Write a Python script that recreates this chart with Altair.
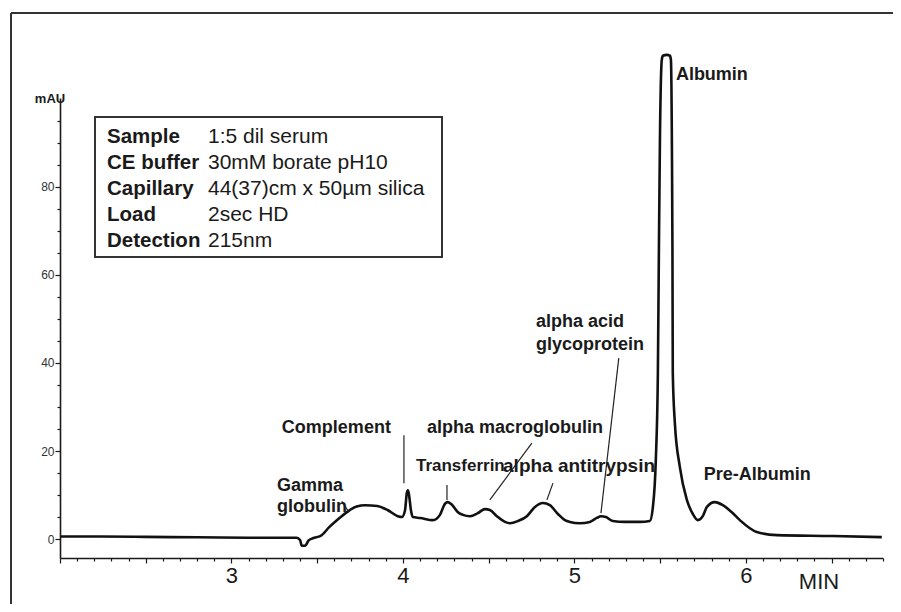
import altair as alt
import pandas as pd

# ---- trace (time in min, absorbance in mAU) ----
time_min = [2.00, 2.20, 2.50, 2.80, 3.10, 3.38, 3.40, 3.41, 3.43, 3.45, 3.475, 3.52, 3.57, 3.63,
            3.69, 3.73, 3.78, 3.85, 3.91, 3.97, 3.994, 4.012, 4.023, 4.029, 4.035, 4.047, 4.058,
            4.10, 4.175, 4.216, 4.245, 4.262, 4.286, 4.321, 4.35, 4.391, 4.437, 4.478, 4.507,
            4.548, 4.595, 4.624, 4.671, 4.723, 4.77, 4.816, 4.857, 4.904, 4.945, 4.974, 5.032,
            5.09, 5.131, 5.155, 5.184, 5.224, 5.294, 5.382, 5.44, 5.458, 5.475, 5.487, 5.493,
            5.499, 5.51, 5.516, 5.539, 5.557, 5.563, 5.569, 5.572, 5.574, 5.586, 5.615, 5.656,
            5.691, 5.72, 5.749, 5.773, 5.819, 5.866, 5.918, 5.965, 6.064, 6.181, 6.507, 6.793]
mau = [0.6, 0.6, 0.5, 0.4, 0.3, 0.3, -0.2, -1.5, -1.5, -0.3, 0.2, 0.7, 2.7, 4.8,
       6.6, 7.4, 7.7, 7.5, 6.6, 5.2, 5.0, 6.5, 10.5, 11.1, 10.2, 6.5, 5.0,
       4.8, 4.3, 5.5, 8.0, 8.4, 7.8, 6.1, 5.5, 5.2, 5.9, 6.8, 6.6,
       5.2, 3.9, 3.6, 4.1, 5.2, 7.3, 8.2, 7.7, 5.7, 4.3, 3.9, 3.6,
       3.9, 4.8, 5.2, 5.0, 4.1, 3.9, 3.9, 4.1, 7.3, 18.0, 37.7, 65.7,
       90.7, 108.9, 109.8, 110.0, 109.8, 108.9, 88.4, 65.7, 37.7, 26.4, 16.4, 8.9,
       5.7, 4.3, 5.2, 7.3, 8.4, 7.7, 6.1, 4.3, 1.6, 0.9, 0.7, 0.45]

# ---- peak annotations ----
peak_labels = ["Albumin", "Pre-Albumin", "Complement", "alpha macroglobulin", "Transferrin",
               "alpha antitrypsin", "Gamma", "globulin", "alpha acid", "glycoprotein"]
label_t = [5.592, 5.755, 3.294, 4.140, 4.076, 4.584, 3.265, 3.265, 4.776, 4.776]
label_v = [105.5, 14.5, 25.2, 25.2, 16.6, 16.6, 12.0, 7.3, 49.3, 44.1]
label_size = [18, 18, 18, 18, 17, 19, 18, 18, 18, 18]

lead_t1 = [4.006, 4.257, 4.752, 4.875, 5.259, 3.644]
lead_v1 = [23.6, 12.3, 21.8, 12.7, 41.1, 8.6]
lead_t2 = [4.006, 4.257, 4.507, 4.840, 5.155, 3.685]
lead_v2 = [12.7, 8.9, 8.9, 8.9, 5.9, 6.1]

# ---- conditions box ----
box_keys = ["Sample", "CE buffer", "Capillary", "Load", "Detection"]
box_vals = ["1:5 dil serum", "30mM borate pH10", "44(37)cm x 50\u00b5m silica", "2sec HD", "215nm"]

x_ticks = [round(2.0 + 0.1 * i, 1) for i in range(49)]
y_ticks = list(range(0, 100, 5))

FONT = "Liberation Sans, Arial, sans-serif"
W, H = 823, 460
INK = "#1a1a1a"

trace = pd.DataFrame({"t": time_min, "v": mau})
ann = pd.DataFrame({"text": peak_labels, "t": label_t, "v": label_v, "size": label_size})
leads = pd.DataFrame({"t1": lead_t1, "v1": lead_v1, "t2": lead_t2, "v2": lead_v2})
one = pd.DataFrame({"a": [0]})

xs = alt.Scale(domain=[2.0, 6.8], nice=False, zero=False)
ys = alt.Scale(domain=[-4.3, 100.2], nice=False, zero=False)

xaxis = alt.Axis(
    values=x_ticks, grid=False, title=None, domainColor=INK, domainWidth=1.6,
    tickColor=INK, tickWidth=1.2,
    tickSize={"condition": {"test": "round(datum.value * 10) % 5 == 0", "value": 5}, "value": 3},
    labelExpr="abs(datum.value - round(datum.value)) < 0.01 && datum.value > 2.5 ? toString(round(datum.value)) : ''",
    labelFont=FONT, labelFontSize=22, labelColor=INK, labelPadding=2,
    labelOverlap=False, labelFlush=False, labelBound=False,
)
yaxis = alt.Axis(
    values=y_ticks, grid=False, title=None, domainColor=INK, domainWidth=1.6,
    tickColor=INK, tickWidth=1.2,
    tickSize={"condition": {"test": "datum.value % 20 == 0", "value": 5}, "value": 3},
    labelExpr="datum.value % 20 == 0 ? datum.label : ''",
    labelFont=FONT, labelFontSize=12, labelColor="#333", labelPadding=1,
    labelOverlap=False, labelFlush=False, labelBound=False,
)

X = lambda f: alt.X(f, scale=xs, axis=xaxis)
Y = lambda f: alt.Y(f, scale=ys, axis=yaxis)

line = alt.Chart(trace).mark_line(color="#111", strokeWidth=2.6, interpolate="monotone").encode(
    x=X("t:Q"), y=Y("v:Q"),
)

leaders = alt.Chart(leads).mark_rule(color="#222", strokeWidth=1.2).encode(
    x=X("t1:Q"), y=Y("v1:Q"), x2="t2:Q", y2="v2:Q",
)

labels = alt.Chart(ann).mark_text(
    font=FONT, fontWeight="bold", align="left", baseline="middle", color=INK
).encode(x=X("t:Q"), y=Y("v:Q"), text="text:N",
         size=alt.Size("size:Q", scale=None, legend=None))

frame_left = alt.Chart(one).mark_rule(color="#333", strokeWidth=2).encode(
    x=alt.value(-49), y=alt.value(-85), y2=alt.value(H + 60))
frame_top = alt.Chart(one).mark_rule(color="#333", strokeWidth=2).encode(
    x=alt.value(-49), x2=alt.value(W + 60), y=alt.value(-85))

box_rect = alt.Chart(one).mark_rect(fill="white", stroke="#333", strokeWidth=2).encode(
    x=alt.value(35), x2=alt.value(382), y=alt.value(19), y2=alt.value(159))

box_layers = []
for i, (k, v) in enumerate(zip(box_keys, box_vals)):
    yy = 45 + 26 * i
    box_layers.append(alt.Chart(one).mark_text(
        text=k, font=FONT, fontSize=20.5, fontWeight="bold", align="left", baseline="alphabetic", color=INK
    ).encode(x=alt.value(47), y=alt.value(yy)))
    box_layers.append(alt.Chart(one).mark_text(
        text=v, font=FONT, fontSize=21, align="left", baseline="alphabetic", color=INK
    ).encode(x=alt.value(148), y=alt.value(yy)))

mau_txt = alt.Chart(one).mark_text(
    text="mAU", font=FONT, fontSize=13, fontWeight="bold", align="center", baseline="middle", color=INK
).encode(x=alt.value(-10), y=alt.value(1))
min_txt = alt.Chart(one).mark_text(
    text="MIN", font=FONT, fontSize=22, align="center", baseline="middle", color=INK
).encode(x=alt.value(759), y=alt.value(484))

chart = alt.layer(
    line, frame_left, frame_top, leaders, labels, box_rect, *box_layers, mau_txt, min_txt
).properties(
    width=W, height=H,
    background="white",
    autosize=alt.AutoSizeParams(type="none"),
    padding={"left": 52, "top": 90, "right": 10, "bottom": 46},
).configure_view(stroke=None, strokeWidth=0).configure_axis(labelOverlap=False)

chart.save("out.html", embed_options={"renderer": "svg", "actions": False})
